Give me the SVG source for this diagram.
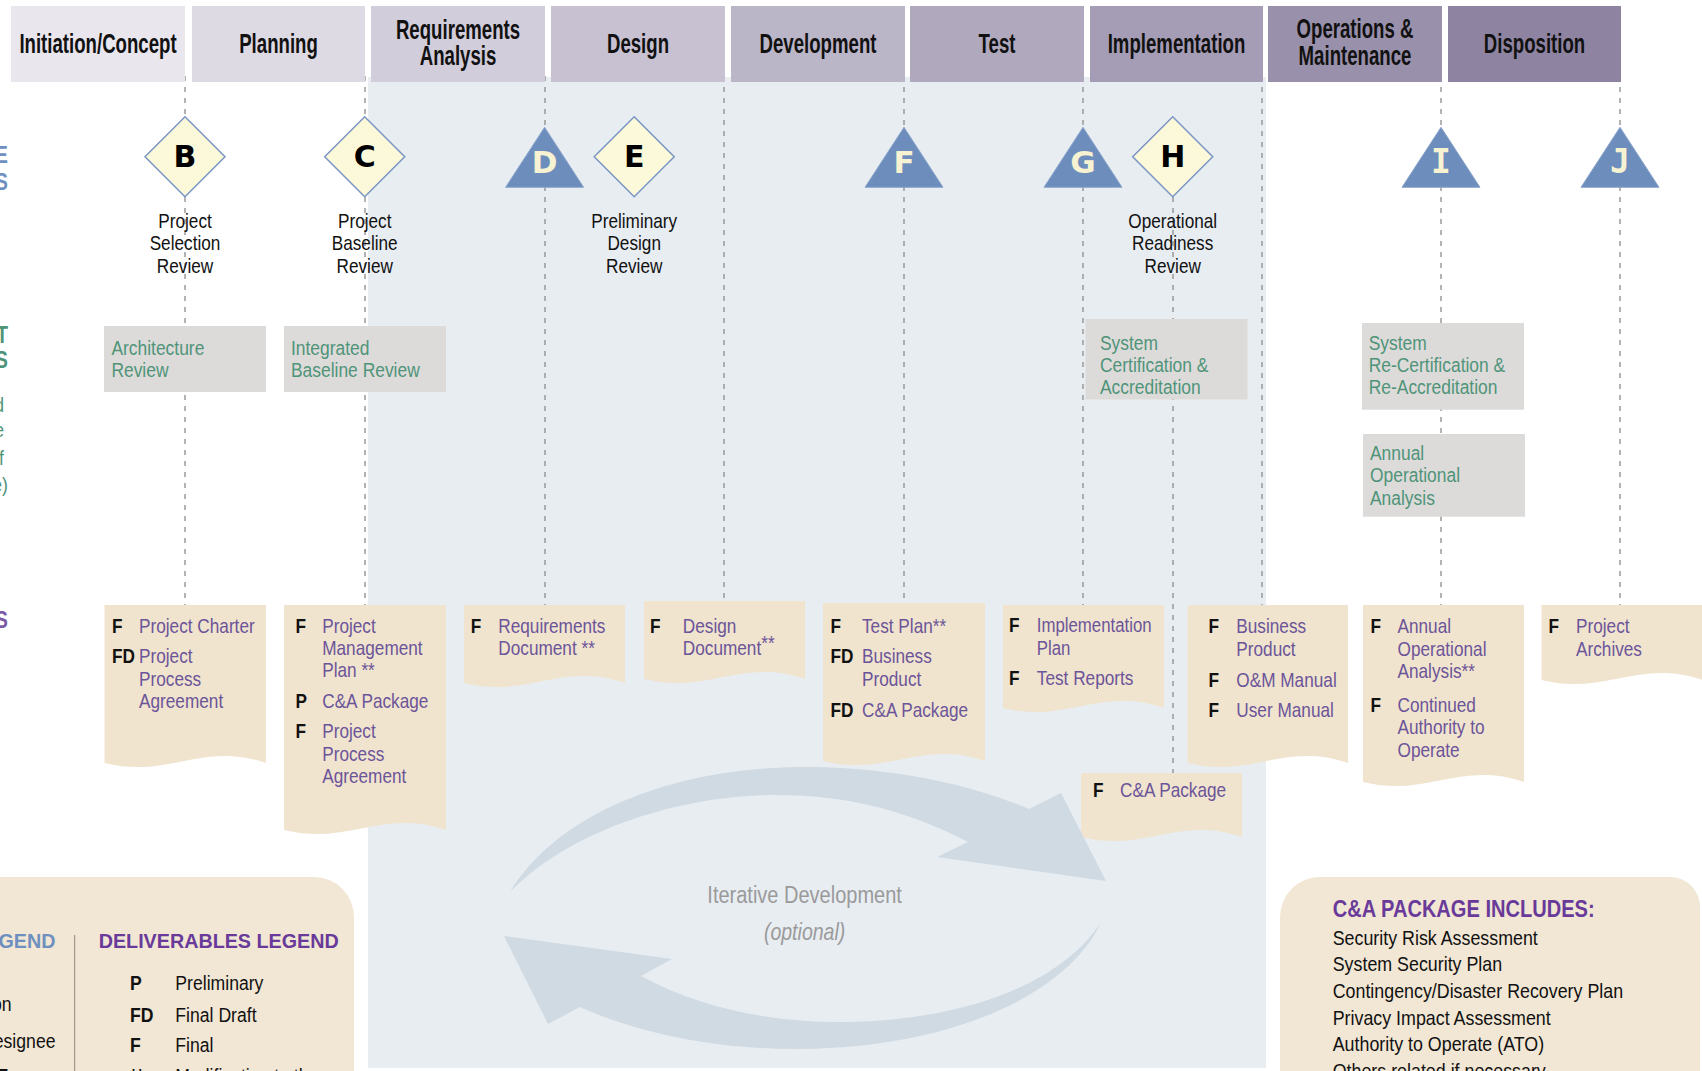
<svg xmlns="http://www.w3.org/2000/svg" width="1702" height="1071" viewBox="0 0 1702 1071">
<defs>
<style>
text{font-family:"Liberation Sans",Arial,sans-serif}
.hdr{font-weight:bold;font-size:27px;fill:#111;text-anchor:middle}
.lbl{font-size:20px;fill:#111;text-anchor:middle}
.rev{font-size:21px;fill:#4f9479}
.k{font-size:21px;font-weight:bold;fill:#111}
.d{font-size:21px;fill:#6c5499}
.ml{font-family:"DejaVu Sans",Verdana,sans-serif;font-weight:bold;font-size:30px;text-anchor:middle;fill:#000}
.tl{font-family:"DejaVu Sans",Verdana,sans-serif;font-weight:bold;font-size:31px;text-anchor:middle;fill:#f7f2d2}
.tlm{font-family:"DejaVu Sans Mono",monospace;font-weight:bold;font-size:33px;text-anchor:middle;fill:#f7f2d2}
.dia{fill:#fbf9d9;stroke:#7a96c4;stroke-width:1.5}
.tri{fill:#6d8dbd;stroke:#8ba5cc;stroke-width:1}
.rbox{fill:#dddbd9}
.doc{fill:#f0e4cf}
.dash{stroke:#8c8c8c;stroke-width:1.3;stroke-dasharray:5 6;fill:none}
.arr{fill:#cfdae3}
.leg{fill:#f1e7d4}
.lt{font-size:21px;fill:#111}
.lk{font-size:21px;font-weight:bold;fill:#111}
</style>
</defs>
<rect x="0" y="0" width="1702" height="1071" fill="#fff"/>
<rect id="iterative-region" x="368" y="77" width="898" height="991" fill="#e8edf2"/>

<g id="connectors">
<line class="dash" x1="185" y1="76" x2="185" y2="605"/>
<line class="dash" x1="365" y1="76" x2="365" y2="605"/>
<line class="dash" x1="545" y1="76" x2="545" y2="605"/>
<line class="dash" x1="724" y1="76" x2="724" y2="601"/>
<line class="dash" x1="904" y1="76" x2="904" y2="603"/>
<line class="dash" x1="1083" y1="76" x2="1083" y2="605"/>
<line class="dash" x1="1173" y1="197" x2="1173" y2="773"/>
<line class="dash" x1="1262" y1="76" x2="1262" y2="605"/>
<line class="dash" x1="1441" y1="76" x2="1441" y2="605"/>
<line class="dash" x1="1620" y1="76" x2="1620" y2="605"/>
</g>

<g id="headers">
<g id="hdr-initiation"><rect x="11" y="6" width="174" height="76" fill="#e9e6ee"/><text class="hdr" transform="translate(98,52.7) scale(0.69,1)">Initiation/Concept</text></g>
<g id="hdr-planning"><rect x="192" y="6" width="173" height="76" fill="#dedae4"/><text class="hdr" transform="translate(278.5,52.7) scale(0.69,1)">Planning</text></g>
<g id="hdr-requirements"><rect x="371" y="6" width="174" height="76" fill="#d2cddb"/><text class="hdr" transform="translate(458,39.3) scale(0.69,1)"><tspan x="0">Requirements</tspan><tspan x="0" dy="25.7">Analysis</tspan></text></g>
<g id="hdr-design"><rect x="551" y="6" width="174" height="76" fill="#c7c1d1"/><text class="hdr" transform="translate(638,52.7) scale(0.69,1)">Design</text></g>
<g id="hdr-development"><rect x="731" y="6" width="174" height="76" fill="#bbb5c8"/><text class="hdr" transform="translate(818,52.7) scale(0.69,1)">Development</text></g>
<g id="hdr-test"><rect x="910" y="6" width="174" height="76" fill="#b0a9be"/><text class="hdr" transform="translate(997,52.7) scale(0.69,1)">Test</text></g>
<g id="hdr-implementation"><rect x="1090" y="6" width="173" height="76" fill="#a59cb5"/><text class="hdr" transform="translate(1176.5,52.7) scale(0.69,1)">Implementation</text></g>
<g id="hdr-operations"><rect x="1268" y="6" width="174" height="76" fill="#9990ab"/><text class="hdr" transform="translate(1355,38.3) scale(0.69,1)"><tspan x="0">Operations &amp;</tspan><tspan x="0" dy="26.7">Maintenance</tspan></text></g>
<g id="hdr-disposition"><rect x="1448" y="6" width="173" height="76" fill="#8e84a2"/><text class="hdr" transform="translate(1534.5,52.7) scale(0.69,1)">Disposition</text></g>
</g>

<g id="milestones">
<g id="ms-B"><path class="dia" d="M185,116.7 L225,156.7 L185,196.7 L145,156.7 Z"/><text class="ml" x="185" y="167">B</text>
<text class="lbl" transform="translate(185,227.7) scale(0.86,1)"><tspan x="0">Project</tspan><tspan x="0" dy="22.5">Selection</tspan><tspan x="0" dy="22.5">Review</tspan></text></g>
<g id="ms-C"><path class="dia" d="M364.7,116.7 L404.7,156.7 L364.7,196.7 L324.7,156.7 Z"/><text class="ml" x="364.7" y="167">C</text>
<text class="lbl" transform="translate(364.7,227.7) scale(0.86,1)"><tspan x="0">Project</tspan><tspan x="0" dy="22.5">Baseline</tspan><tspan x="0" dy="22.5">Review</tspan></text></g>
<g id="ms-D"><path class="tri" d="M544.6,127.3 L583.6,187.3 L505.6,187.3 Z"/><text class="tl" x="544.6" y="173.3">D</text></g>
<g id="ms-E"><path class="dia" d="M634.2,116.7 L674.2,156.7 L634.2,196.7 L594.2,156.7 Z"/><text class="ml" x="634.2" y="167">E</text>
<text class="lbl" transform="translate(634.2,227.7) scale(0.86,1)"><tspan x="0">Preliminary</tspan><tspan x="0" dy="22.5">Design</tspan><tspan x="0" dy="22.5">Review</tspan></text></g>
<g id="ms-F"><path class="tri" d="M904,127.3 L943,187.3 L865,187.3 Z"/><text class="tl" x="904" y="173.3">F</text></g>
<g id="ms-G"><path class="tri" d="M1083,127.3 L1122,187.3 L1044,187.3 Z"/><text class="tl" x="1083" y="173.3">G</text></g>
<g id="ms-H"><path class="dia" d="M1172.7,116.7 L1212.7,156.7 L1172.7,196.7 L1132.7,156.7 Z"/><text class="ml" x="1172.7" y="167">H</text>
<text class="lbl" transform="translate(1172.7,227.7) scale(0.86,1)"><tspan x="0">Operational</tspan><tspan x="0" dy="22.5">Readiness</tspan><tspan x="0" dy="22.5">Review</tspan></text></g>
<g id="ms-I"><path class="tri" d="M1441,127.3 L1480,187.3 L1402,187.3 Z"/><text class="tlm" x="1441" y="173.3">I</text></g>
<g id="ms-J"><path class="tri" d="M1620,127.3 L1659,187.3 L1581,187.3 Z"/><text class="tlm" x="1620" y="173.3">J</text></g>
</g>

<g id="reviews">
<g id="rv-architecture"><rect class="rbox" x="104" y="326" width="162" height="66"/><text class="rev" transform="translate(111.4,355) scale(0.83,1)"><tspan x="0">Architecture</tspan><tspan x="0" dy="22.3">Review</tspan></text></g>
<g id="rv-integrated"><rect class="rbox" x="284" y="326" width="162" height="66"/><text class="rev" transform="translate(291,355) scale(0.83,1)"><tspan x="0">Integrated</tspan><tspan x="0" dy="22.3">Baseline Review</tspan></text></g>
<g id="rv-system-ca"><rect class="rbox" x="1085.5" y="319" width="162" height="80.5"/><text class="rev" transform="translate(1100,350) scale(0.83,1)"><tspan x="0">System</tspan><tspan x="0" dy="22">Certification &amp;</tspan><tspan x="0" dy="22">Accreditation</tspan></text></g>
<g id="rv-recert"><rect class="rbox" x="1362" y="323" width="162" height="86.7"/><text class="rev" transform="translate(1368.7,350) scale(0.83,1)"><tspan x="0">System</tspan><tspan x="0" dy="22">Re-Certification &amp;</tspan><tspan x="0" dy="22">Re-Accreditation</tspan></text></g>
<g id="rv-annual"><rect class="rbox" x="1363" y="434" width="162" height="82.7"/><text class="rev" transform="translate(1370,460) scale(0.83,1)"><tspan x="0">Annual</tspan><tspan x="0" dy="22.3">Operational</tspan><tspan x="0" dy="22.3">Analysis</tspan></text></g>
</g>

<g id="deliverables">
<g id="dv-initiation"><path class="doc" d="M104.5,605 H266 V763 C201.4,741 169.1,779 104.5,763 Z"/>
<text class="k" transform="translate(112,633.3) scale(0.82,1)">F</text><text class="d" transform="translate(139,633.3) scale(0.82,1)">Project Charter</text>
<text class="k" transform="translate(112,663.3) scale(0.82,1)">FD</text><text class="d" transform="translate(139,663.3) scale(0.82,1)"><tspan x="0">Project</tspan><tspan x="0" dy="22.5">Process</tspan><tspan x="0" dy="22.5">Agreement</tspan></text></g>
<g id="dv-planning"><path class="doc" d="M284,605 H446 V830 C381.2,808 348.8,846 284,830 Z"/>
<text class="k" transform="translate(295.4,633.3) scale(0.82,1)">F</text><text class="d" transform="translate(322.2,633.3) scale(0.82,1)"><tspan x="0">Project</tspan><tspan x="0" dy="22">Management</tspan><tspan x="0" dy="21.5">Plan **</tspan></text>
<text class="k" transform="translate(295.4,708.3) scale(0.82,1)">P</text><text class="d" transform="translate(322.2,708.3) scale(0.82,1)">C&amp;A Package</text>
<text class="k" transform="translate(295.4,738.3) scale(0.82,1)">F</text><text class="d" transform="translate(322.2,738.3) scale(0.82,1)"><tspan x="0">Project</tspan><tspan x="0" dy="22.5">Process</tspan><tspan x="0" dy="22.5">Agreement</tspan></text></g>
<g id="dv-requirements"><path class="doc" d="M464,605 H625 V683 C560.6,661 528.4,699 464,683 Z"/>
<text class="k" transform="translate(470.7,633.3) scale(0.82,1)">F</text><text class="d" transform="translate(498.3,633.3) scale(0.82,1)"><tspan x="0">Requirements</tspan><tspan x="0" dy="21.7">Document **</tspan></text></g>
<g id="dv-design"><path class="doc" d="M644,601 H805 V679 C740.6,657 708.4,695 644,679 Z"/>
<text class="k" transform="translate(650,633.3) scale(0.82,1)">F</text><text class="d" transform="translate(682.8,633.3) scale(0.82,1)"><tspan x="0">Design</tspan><tspan x="0" dy="21.7">Document</tspan><tspan dy="-5">**</tspan></text></g>
<g id="dv-development"><path class="doc" d="M823,603 H985 V761 C920.2,739 887.8,777 823,761 Z"/>
<text class="k" transform="translate(830.5,633.3) scale(0.82,1)">F</text><text class="d" transform="translate(862,633.3) scale(0.82,1)">Test Plan**</text>
<text class="k" transform="translate(830.5,663.3) scale(0.82,1)">FD</text><text class="d" transform="translate(862,663.3) scale(0.82,1)"><tspan x="0">Business</tspan><tspan x="0" dy="22.7">Product</tspan></text>
<text class="k" transform="translate(830.5,716.7) scale(0.82,1)">FD</text><text class="d" transform="translate(862,716.7) scale(0.82,1)">C&amp;A Package</text></g>
<g id="dv-test"><path class="doc" d="M1003,605 H1164 V708 C1099.6,686 1067.4,724 1003,708 Z"/>
<text class="k" transform="translate(1009,631.7) scale(0.82,1)">F</text><text class="d" transform="translate(1036.8,631.7) scale(0.8,1)"><tspan x="0">Implementation</tspan><tspan x="0" dy="23.3">Plan</tspan></text>
<text class="k" transform="translate(1009,685) scale(0.82,1)">F</text><text class="d" transform="translate(1036.8,685) scale(0.82,1)">Test Reports</text></g>
<g id="dv-implementation"><path class="doc" d="M1187.5,605 H1348 V763 C1283.8,741 1251.7,779 1187.5,763 Z"/>
<text class="k" transform="translate(1208.6,633.3) scale(0.82,1)">F</text><text class="d" transform="translate(1236.3,633.3) scale(0.82,1)"><tspan x="0">Business</tspan><tspan x="0" dy="22.7">Product</tspan></text>
<text class="k" transform="translate(1208.6,686.7) scale(0.82,1)">F</text><text class="d" transform="translate(1236.3,686.7) scale(0.82,1)">O&amp;M Manual</text>
<text class="k" transform="translate(1208.6,717.3) scale(0.82,1)">F</text><text class="d" transform="translate(1236.3,717.3) scale(0.82,1)">User Manual</text></g>
<g id="dv-operations"><path class="doc" d="M1363,605 H1524 V782 C1459.6,760 1427.4,798 1363,782 Z"/>
<text class="k" transform="translate(1370.6,633.3) scale(0.82,1)">F</text><text class="d" transform="translate(1397.5,633.3) scale(0.82,1)"><tspan x="0">Annual</tspan><tspan x="0" dy="22.7">Operational</tspan><tspan x="0" dy="21.7">Analysis**</tspan></text>
<text class="k" transform="translate(1370.6,711.7) scale(0.82,1)">F</text><text class="d" transform="translate(1397.5,711.7) scale(0.82,1)"><tspan x="0">Continued</tspan><tspan x="0" dy="22.6">Authority to</tspan><tspan x="0" dy="22.4">Operate</tspan></text></g>
<g id="dv-disposition"><path class="doc" d="M1541.5,605 H1703 V680 C1638.4,658 1606.1,696 1541.5,680 Z"/>
<text class="k" transform="translate(1548.4,633.3) scale(0.82,1)">F</text><text class="d" transform="translate(1576,633.3) scale(0.82,1)"><tspan x="0">Project</tspan><tspan x="0" dy="22.7">Archives</tspan></text></g>
<g id="dv-ca-package"><path class="doc" d="M1081,773 H1242 V837 C1177.6,815 1145.4,853 1081,837 Z"/>
<text class="k" transform="translate(1093,796.7) scale(0.82,1)">F</text><text class="d" transform="translate(1120,796.7) scale(0.82,1)">C&amp;A Package</text></g>
</g>

<g id="iterative-development">
<path class="arr" d="M510,892 C560,810 680,766 810,767 C900,768 975,786 1029,809 L1061,793 L1106,881 L937,857 L968,842 C910,812 850,795 776,795 C680,795 570,830 510,892 Z"/>
<path class="arr" d="M1100.5,923 C1070,990 960,1047 802,1049 C710,1050 630,1030 580,1007 L548,1024 L504,936 L672,959 L641,976 C700,1008 770,1022 838,1022 C960,1022 1060,985 1100.5,923 Z"/>
<text transform="translate(804.6,903.3) scale(0.87,1)" style="font-size:23px;fill:#9a9a9a;text-anchor:middle">Iterative Development</text>
<text transform="translate(804.6,940) scale(0.85,1)" style="font-size:23px;fill:#9a9a9a;text-anchor:middle;font-style:italic">(optional)</text>
</g>

<g id="side-labels">
<text transform="translate(8,163.3) scale(0.84,1)" style="font-size:23px;font-weight:bold;fill:#6f8fc0;text-anchor:end">E</text>
<text transform="translate(8,190) scale(0.84,1)" style="font-size:23px;font-weight:bold;fill:#6f8fc0;text-anchor:end">S</text>
<text transform="translate(8,343) scale(0.84,1)" style="font-size:23px;font-weight:bold;fill:#4f9479;text-anchor:end">T</text>
<text transform="translate(8,368) scale(0.84,1)" style="font-size:23px;font-weight:bold;fill:#4f9479;text-anchor:end">S</text>
<text transform="translate(4,412) scale(0.84,1)" style="font-size:21px;fill:#4f9479;text-anchor:end">d</text>
<text transform="translate(4,437) scale(0.84,1)" style="font-size:21px;fill:#4f9479;text-anchor:end">e</text>
<text transform="translate(4,465) scale(0.84,1)" style="font-size:21px;fill:#4f9479;text-anchor:end">f</text>
<text transform="translate(8,492) scale(0.84,1)" style="font-size:21px;fill:#4f9479;text-anchor:end">e)</text>
<text transform="translate(8,627.5) scale(0.84,1)" style="font-size:23px;font-weight:bold;fill:#7a5aa6;text-anchor:end">S</text>
</g>

<g id="legend-left">
<path class="leg" d="M-10,877 H314 A40,40 0 0 1 354,917 V1080 H-10 Z"/>
<line x1="74.6" y1="935" x2="74.6" y2="1071" stroke="#a09a90" stroke-width="1.2"/>
<text transform="translate(55.5,948.3) scale(0.94,1)" style="font-size:21px;font-weight:bold;fill:#6f8fc0;text-anchor:end">GEND</text>
<text class="lt" transform="translate(11.5,1011) scale(0.84,1)" style="text-anchor:end">on</text>
<text class="lt" transform="translate(55.5,1048.3) scale(0.84,1)" style="text-anchor:end">esignee</text>
<text class="lk" transform="translate(8,1083) scale(0.84,1)" style="text-anchor:end">F</text>
<text x="98.7" y="948.3" textLength="240" lengthAdjust="spacingAndGlyphs" style="font-size:21px;font-weight:bold;fill:#6a3a9a">DELIVERABLES LEGEND</text>
<text class="lk" transform="translate(130,990) scale(0.84,1)">P</text><text class="lt" transform="translate(175.3,990) scale(0.84,1)">Preliminary</text>
<text class="lk" transform="translate(130,1021.7) scale(0.84,1)">FD</text><text class="lt" transform="translate(175.3,1021.7) scale(0.84,1)">Final Draft</text>
<text class="lk" transform="translate(130,1052.3) scale(0.84,1)">F</text><text class="lt" transform="translate(175.3,1052.3) scale(0.84,1)">Final</text>
<text class="lk" transform="translate(130,1083) scale(0.84,1)">**</text><text class="lt" transform="translate(175.3,1083) scale(0.84,1)">Modification to the</text>
</g>

<g id="legend-ca">
<path class="leg" d="M1280,1080 V917 A40,40 0 0 1 1320,877 H1670 A30,30 0 0 1 1700,907 V1080 Z"/>
<text x="1332.7" y="916.7" textLength="262" lengthAdjust="spacingAndGlyphs" style="font-size:23px;font-weight:bold;fill:#6a3a9a">C&amp;A PACKAGE INCLUDES:</text>
<text class="lt" transform="translate(1332.7,944.5) scale(0.85,1)"><tspan x="0">Security Risk Assessment</tspan><tspan x="0" dy="26.7">System Security Plan</tspan><tspan x="0" dy="26.7">Contingency/Disaster Recovery Plan</tspan><tspan x="0" dy="26.7">Privacy Impact Assessment</tspan><tspan x="0" dy="26.7">Authority to Operate (ATO)</tspan><tspan x="0" dy="26.7">Others related if necessary</tspan></text>
</g>
</svg>
